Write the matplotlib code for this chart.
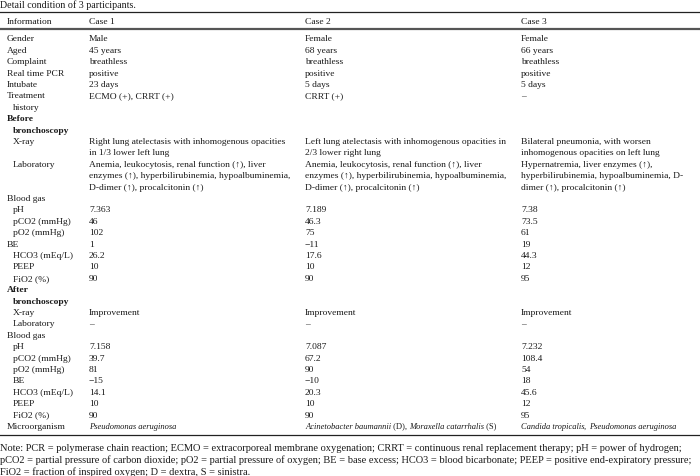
import matplotlib
matplotlib.use("Agg")
import matplotlib.pyplot as plt
from matplotlib.lines import Line2D

plt.rcParams["font.family"] = ["Liberation Serif", "DejaVu Serif"]

title = "Detail condition of 3 participants."
headers = ["Information", "Case 1", "Case 2", "Case 3"]

labels = [
    "Gender", "Aged", "Complaint", "Real time PCR", "Intubate", "Treatment\n history",
    "Before\n bronchoscopy", "X-ray", "Laboratory", "Blood gas",
    "pH", "pCO2 (mmHg)", "pO2 (mmHg)", "BE", "HCO3 (mEq/L)", "PEEP", "FiO2 (%)",
    "After\n bronchoscopy", "X-ray", "Laboratory", "Blood gas",
    "pH", "pCO2 (mmHg)", "pO2 (mmHg)", "BE", "HCO3 (mEq/L)", "PEEP", "FiO2 (%)",
    "Microorganism",
]
# indent level of each label (0 = flush, 1 = indented)
label_indent = [0, 0, 0, 0, 0, 0,
                0, 1, 1, 0,
                1, 1, 1, 0, 1, 1, 1,
                0, 1, 1, 0,
                1, 1, 1, 1, 1, 1, 1,
                0]
bold_rows = [6, 17]

lab_txt = "Anemia, leukocytosis, renal function (↑), liver\nenzymes (↑), hyperbilirubinemia, hypoalbuminemia,\nD-dimer (↑), procalcitonin (↑)"

# text between * * is set in italics
case1 = [
    "Male", "45 years", "breathless", "positive", "23 days", "ECMO (+), CRRT (+)",
    "", "Right lung atelectasis with inhomogenous opacities\nin 1/3 lower left lung", lab_txt, "",
    "7.363", "46", "102", "1", "26.2", "10", "90",
    "", "Improvement", "–", "",
    "7.158", "39.7", "81", "−15", "14.1", "10", "90",
    "*Pseudomonas aeruginosa*",
]
case2 = [
    "Female", "68 years", "breathless", "positive", "5 days", "CRRT (+)",
    "", "Left lung atelectasis with inhomogenous opacities in\n2/3 lower right lung", lab_txt, "",
    "7.189", "46.3", "75", "−11", "17.6", "10", "90",
    "", "Improvement", "–", "",
    "7.087", "67.2", "90", "−10", "20.3", "10", "90",
    "*Acinetobacter baumannii* (D), *Moraxella catarrhalis* (S)",
]
case3 = [
    "Female", "66 years", "breathless", "positive", "5 days", "–",
    "", "Bilateral pneumonia, with worsen\ninhomogenous opacities on left lung",
    "Hypernatremia, liver enzymes (↑),\nhyperbilirubinemia, hypoalbuminemia, D-\ndimer (↑), procalcitonin (↑)", "",
    "7.38", "73.5", "61", "19", "44.3", "12", "95",
    "", "Improvement", "–", "",
    "7.232", "108.4", "54", "18", "45.6", "12", "95",
    "*Candida tropicalis*, *Pseudomonas aeruginosa*",
]

note_lines = [
    "Note: PCR = polymerase chain reaction; ECMO = extracorporeal membrane oxygenation; CRRT = continuous renal replacement therapy; pH = power of hydrogen;",
    "pCO2 = partial pressure of carbon dioxide; pO2 = partial pressure of oxygen; BE = base excess; HCO3 = blood bicarbonate; PEEP = positive end-expiratory pressure;",
    "FiO2 = fraction of inspired oxygen; D = dextra, S = sinistra.",
]

W, H = 700, 477
fig = plt.figure(figsize=(W / 100, H / 100), dpi=100)
fig.patch.set_facecolor("white")
renderer = fig.canvas.get_renderer()


def put(x, y, s, size=6.8, **kw):
    # y is the visual centre of the line; place on a common baseline
    return fig.text(x / W, 1 - (y + 0.3 * size * 100 / 72) / H, s, fontsize=size,
                    va="baseline", ha="left", color="#1a1a1a", **kw)


def put_mixed(x, y, s, size=6.8):
    pieces = s.split("*")
    if len(pieces) > 1:
        size = 6.1
    # alternate upright / italic pieces split on '*'
    for k, piece in enumerate(pieces):
        if not piece:
            continue
        t = put(x, y, piece, size=size, fontstyle="italic" if k % 2 else "normal")
        x += t.get_window_extent(renderer).width


def hline(y, lw=0.8, color="#222222"):
    fig.add_artist(Line2D([0, 1], [1 - y / H, 1 - y / H], lw=lw, color=color,
                          transform=fig.transFigure))


col_x = [7, 89, 305, 521]
indent_x = [7, 13]
line_h = 11.4
y0 = 38.5

put(0, 4.5, title, size=7.2)
hline(12.5, lw=0.9)
for x, h in zip(col_x, headers):
    put(x, 21.5, h)
hline(30, lw=1.6, color="#555555")

line = 0
for i, lab in enumerate(labels):
    cells = [lab, case1[i], case2[i], case3[i]]
    nlines = max(c.count("\n") + 1 for c in cells)
    weight = "bold" if i in bold_rows else "normal"
    for j, s in enumerate(lab.split("\n")):
        xx = indent_x[label_indent[i]]
        if s.startswith(" "):
            xx += 6
            s = s.strip()
        put(xx, y0 + (line + j) * line_h, s, fontweight=weight)
    for c, x in zip(cells[1:], col_x[1:]):
        for j, s in enumerate(c.split("\n")):
            if s:
                put_mixed(x, y0 + (line + j) * line_h, s)
    line += nlines

hline(436, lw=0.9)
for k, s in enumerate(note_lines):
    put(0, 447.5 + k * 12, s, size=7.5)

fig.savefig("out.png", dpi=100)
